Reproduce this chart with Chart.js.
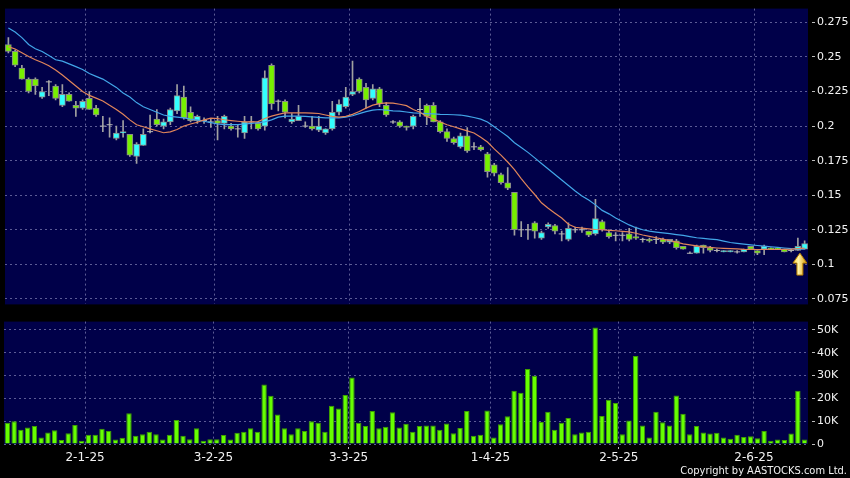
<!DOCTYPE html>
<html>
<head>
<meta charset="utf-8">
<script src="https://cdn.jsdelivr.net/npm/chart.js@4.4.0/dist/chart.umd.min.js"></script>
<style>
  html, body { margin: 0; padding: 0; background: #000; width: 850px; height: 478px; overflow: hidden; }
  #wrap { position: relative; width: 850px; height: 478px; }
  canvas { position: absolute; left: 0; }
  #price { top: 0; }
  #vol { top: 313px; }
</style>
</head>
<body>
<div id="wrap">
  <canvas id="price" width="850" height="313"></canvas>
  <canvas id="vol" width="850" height="165"></canvas>
</div>
<script>
// trading days, D-M-YY
const dates = [
  "12-12-24","13-12-24","16-12-24","17-12-24","18-12-24","19-12-24","20-12-24","23-12-24","24-12-24","27-12-24","30-12-24","31-12-24",
  "2-1-25","3-1-25","6-1-25","7-1-25","8-1-25","9-1-25","10-1-25","13-1-25","14-1-25","15-1-25","16-1-25","17-1-25","20-1-25","21-1-25","22-1-25","23-1-25","24-1-25","27-1-25","28-1-25",
  "3-2-25","4-2-25","5-2-25","6-2-25","7-2-25","10-2-25","11-2-25","12-2-25","13-2-25","14-2-25","17-2-25","18-2-25","19-2-25","20-2-25","21-2-25","24-2-25","25-2-25","26-2-25","27-2-25","28-2-25",
  "3-3-25","4-3-25","5-3-25","6-3-25","7-3-25","10-3-25","11-3-25","12-3-25","13-3-25","14-3-25","17-3-25","18-3-25","19-3-25","20-3-25","21-3-25","24-3-25","25-3-25","26-3-25","27-3-25","28-3-25","31-3-25",
  "1-4-25","2-4-25","3-4-25","7-4-25","8-4-25","9-4-25","10-4-25","11-4-25","14-4-25","15-4-25","16-4-25","17-4-25","22-4-25","23-4-25","24-4-25","25-4-25","28-4-25","29-4-25","30-4-25",
  "2-5-25","6-5-25","7-5-25","8-5-25","9-5-25","12-5-25","13-5-25","14-5-25","15-5-25","16-5-25","19-5-25","20-5-25","21-5-25","22-5-25","23-5-25","26-5-25","27-5-25","28-5-25","29-5-25","30-5-25",
  "2-6-25","3-6-25","4-6-25","5-6-25","6-6-25","9-6-25","10-6-25","11-6-25"
];
const monthStarts = ["2-1-25", "3-2-25", "3-3-25", "1-4-25", "2-5-25", "2-6-25"];

const opens = [
  .259,.254,.242,.234,.234,.221,.232,.229,.215,.223,
  .215,.213,.220,.213,.200,.201,.191,.195,.194,.178,
  .186,.196,.205,.200,.203,.211,.221,.210,.204,.204,
  .203,.204,.202,.200,.198,.195,.203,.202,.200,.244,
  .218,.218,.203,.204,.200,.200,.197,.195,.198,.210,
  .214,.223,.234,.228,.220,.227,.215,.203,.203,.200,
  .200,.212,.215,.215,.203,.196,.191,.185,.193,.185,
  .185,.180,.172,.165,.159,.152,.125,.125,.130,.119,
  .127,.128,.122,.118,.125,.125,.124,.122,.131,.123,
  .121,.121,.122,.120,.118,.118,.118,.118,.116,.117,
  .113,.108,.108,.114,.112,.110,.109,.109,.109,.109,
  .113,.110,.111,.112,.112,.111,.110,.110,.111
];
const highs = [
  .264,.255,.244,.235,.235,.228,.233,.230,.230,.224,
  .218,.219,.225,.215,.207,.206,.200,.204,.194,.188,
  .198,.208,.212,.205,.213,.230,.229,.214,.208,.206,
  .205,.207,.208,.202,.201,.207,.207,.203,.240,.245,
  .219,.219,.209,.215,.203,.207,.207,.198,.218,.219,
  .228,.247,.235,.231,.230,.228,.217,.204,.204,.200,
  .208,.220,.216,.217,.204,.198,.192,.195,.199,.188,
  .186,.181,.173,.166,.170,.152,.131,.129,.131,.124,
  .130,.129,.124,.130,.127,.127,.124,.147,.132,.125,
  .123,.123,.126,.127,.119,.119,.120,.119,.118,.118,
  .113,.109,.114,.114,.113,.111,.110,.110,.110,.111,
  .113,.110,.114,.112,.112,.111,.111,.119,.117
];
const lows = [
  .253,.243,.234,.224,.223,.220,.222,.219,.214,.218,
  .207,.212,.212,.207,.196,.192,.190,.192,.178,.173,
  .186,.195,.200,.198,.201,.209,.205,.203,.202,.202,
  .199,.190,.198,.197,.192,.191,.198,.197,.197,.212,
  .211,.206,.202,.204,.199,.197,.196,.194,.197,.208,
  .213,.222,.224,.213,.219,.214,.207,.202,.199,.197,
  .198,.207,.201,.203,.195,.189,.187,.184,.181,.183,
  .182,.163,.164,.158,.154,.121,.120,.118,.119,.118,
  .126,.122,.117,.117,.123,.123,.120,.121,.124,.119,
  .117,.117,.117,.118,.116,.116,.115,.115,.115,.111,
  .111,.108,.108,.108,.109,.109,.109,.109,.108,.109,
  .111,.107,.107,.111,.111,.109,.109,.110,.111
];
const closes = [
  .254,.244,.234,.225,.229,.225,.232,.220,.223,.218,
  .213,.218,.212,.208,.200,.201,.195,.196,.179,.187,
  .194,.196,.201,.203,.212,.222,.206,.204,.207,.204,
  .203,.202,.207,.198,.198,.203,.203,.198,.235,.216,
  .218,.210,.205,.207,.200,.198,.200,.198,.210,.216,
  .221,.225,.225,.219,.227,.216,.208,.203,.200,.199,
  .207,.212,.207,.203,.196,.191,.188,.193,.182,.185,
  .183,.167,.166,.159,.155,.125,.125,.125,.124,.123,
  .129,.124,.122,.126,.125,.125,.121,.133,.125,.120,
  .121,.121,.118,.119,.118,.117,.118,.116,.118,.112,
  .111,.108,.113,.112,.110,.110,.110,.110,.109,.111,
  .111,.108,.113,.111,.111,.109,.110,.113,.115
];
// volume in thousands of shares
const volumes = [
  9.3, 10.0, 6.2, 7.2, 7.9, 2.8, 5.0, 6.0, 1.7, 4.7,
  8.3, 1.4, 4.0, 4.0, 6.7, 5.7, 2.0, 2.7, 13.5, 3.6,
  4.3, 5.4, 4.3, 2.0, 4.0, 10.5, 3.6, 2.1, 6.9, 1.4,
  2.1, 2.1, 3.9, 2.0, 4.9, 5.4, 6.9, 5.4, 26.1, 21.1,
  12.9, 6.9, 4.3, 6.9, 5.7, 10.0, 9.3, 5.4, 16.8, 15.5,
  21.5, 29.1, 9.3, 7.9, 14.4, 6.9, 7.6, 13.9, 7.2, 8.9,
  5.4, 7.9, 8.1, 8.1, 6.2, 9.0, 4.7, 7.0, 14.4, 3.6,
  4.0, 14.7, 2.8, 8.6, 12.2, 23.3, 22.4, 32.8, 29.9, 9.6,
  14.1, 6.2, 9.3, 11.4, 4.3, 5.0, 5.4, 51.0, 12.3, 19.4,
  17.9, 4.3, 10.3, 38.5, 8.1, 2.8, 14.1, 9.5, 8.1, 21.2,
  13.2, 4.3, 7.9, 5.0, 4.6, 4.9, 2.8, 2.3, 4.0, 3.1,
  3.4, 2.5, 5.7, 1.4, 2.0, 1.7, 4.6, 23.3, 2.0
];
// moving averages as drawn (orange = short, blue = long)
const maShort = [
  .2575,.2558,.253,.2503,.248,.246,.2437,.2405,.237,.233,
  .229,.225,.2222,.2202,.2182,.215,.212,.2085,.2045,.201,
  .1995,.198,.1966,.1952,.1958,.1975,.2,.2015,.2028,.2045,
  .2058,.2055,.2046,.204,.2035,.2031,.203,.2032,.2055,.2072,
  .2085,.2096,.2096,.2096,.2096,.2094,.2091,.208,.207,.2065,
  .207,.2085,.2105,.213,.2152,.2163,.2168,.2166,.2158,.2148,
  .212,.21,.207,.205,.203,.201,.1995,.198,.1965,.195,
  .192,.1885,.1835,.179,.174,.1685,.162,.156,.1505,.1445,
  .1405,.137,.1335,.129,.1268,.1262,.1257,.1252,.125,.1246,
  .1243,.1238,.1234,.1225,.1212,.1202,.1192,.1182,.1172,.116,
  .1148,.1141,.1134,.1127,.1122,.1118,.1115,.1113,.1111,.1108,
  .1107,.1107,.1107,.1107,.1107,.1108,.111,.1114,.1117
];
const maLong = [
  .271,.268,.264,.259,.256,.254,.251,.248,.247,.245,
  .243,.241,.238,.236,.234,.231,.228,.224,.221,.217,
  .214,.212,.21,.208,.207,.2065,.206,.205,.2045,.2035,
  .2025,.2015,.201,.201,.201,.2015,.202,.2025,.203,.2045,
  .2065,.2072,.2072,.2072,.207,.2066,.2063,.206,.206,.206,
  .2065,.2075,.209,.2105,.2115,.212,.2115,.211,.2108,.2102,
  .2096,.2093,.209,.2088,.2085,.2084,.2082,.208,.2072,.2062,
  .205,.203,.1995,.196,.1925,.188,.1845,.181,.177,.173,
  .169,.165,.161,.157,.153,.1495,.1465,.143,.139,.1365,
  .1335,.131,.1285,.1265,.125,.124,.1233,.1227,.1222,.1215,
  .1209,.12,.1192,.1187,.1182,.1178,.1168,.1158,.1152,.1146,
  .1141,.1136,.1132,.1127,.1122,.1118,.1113,.111,.111
];

const NAVY = '#000049';
const GRID = '#5c5c96';
const UP = '#33ffff';
const DOWN = '#77f000';
const TXT = '#f2f2f2';
const FONT = 'DejaVu Sans';

const isMonthStart = i => i < dates.length && monthStarts.includes(dates[i]);

const panelBg = {
  id: 'panelBg',
  beforeDraw(chart) {
    const { ctx, chartArea: a } = chart;
    ctx.save();
    ctx.fillStyle = '#000';
    ctx.fillRect(0, 0, chart.width, chart.height);
    ctx.fillStyle = NAVY;
    ctx.fillRect(a.left, a.top, a.right - a.left, a.bottom - a.top);
    ctx.restore();
  }
};

// yellow marker under the latest candle
const lastArrow = {
  id: 'lastArrow',
  afterDatasetsDraw(chart) {
    const { ctx, scales } = chart;
    const last = dates.length - 1;
    const cx = scales.x.getPixelForValue(last - 0.7);
    const top = scales.y.getPixelForValue(lows[last]) + 4;
    const h = 22, headH = 10, headW = 7, shaftW = 3;
    const g = ctx.createLinearGradient(cx - headW, 0, cx + headW, 0);
    g.addColorStop(0, '#ffd84a');
    g.addColorStop(0.4, '#fff2a6');
    g.addColorStop(1, '#d99a00');
    ctx.save();
    ctx.beginPath();
    ctx.moveTo(cx, top);
    ctx.lineTo(cx + headW, top + headH);
    ctx.lineTo(cx + shaftW, top + headH);
    ctx.lineTo(cx + shaftW, top + h);
    ctx.lineTo(cx - shaftW, top + h);
    ctx.lineTo(cx - shaftW, top + headH);
    ctx.lineTo(cx - headW, top + headH);
    ctx.closePath();
    ctx.fillStyle = g;
    ctx.fill();
    ctx.strokeStyle = '#b07800';
    ctx.lineWidth = 1;
    ctx.stroke();
    ctx.restore();
  }
};

const copyright = {
  id: 'copyright',
  afterDraw(chart) {
    const { ctx } = chart;
    ctx.save();
    ctx.fillStyle = TXT;
    ctx.font = '11px "DejaVu Sans Condensed", "DejaVu Sans"';
    ctx.textAlign = 'right';
    ctx.textBaseline = 'middle';
    ctx.fillText('Copyright by AASTOCKS.com Ltd.', 847, 158);
    ctx.restore();
  }
};

function xAxis(showLabels) {
  return {
    type: 'category',
    offset: true,
    grid: {
      offset: true,
      color: c => isMonthStart(c.index) ? GRID : 'transparent',
      drawTicks: showLabels,
      tickLength: 5,
      tickColor: c => isMonthStart(c.index) ? '#bbbbbb' : 'transparent',
      tickBorderDash: [0, 3, 2, 20]
    },
    border: { display: false, dash: [2, 3] },
    ticks: {
      display: showLabels,
      autoSkip: false,
      maxRotation: 0,
      minRotation: 0,
      padding: 2,
      labelOffset: -3.4,
      color: TXT,
      font: { family: FONT, size: 12 },
      callback: (v, i) => isMonthStart(i) ? dates[i] : ''
    },
    afterFit: s => { s.height = showLabels ? 34 : 0; }
  };
}

function yAxis(min, max, step, fmt) {
  return {
    position: 'right',
    min: min,
    max: max,
    grid: { color: GRID, tickColor: '#bbbbbb', tickLength: 7, tickBorderDash: [0, 4, 3, 20] },
    border: { display: false, dash: [2, 3] },
    ticks: {
      stepSize: step,
      includeBounds: false,
      padding: 2,
      color: TXT,
      font: { family: FONT, size: 11 },
      callback: fmt
    },
    afterFit: s => { s.width = 42; }
  };
}

const common = {
  responsive: false,
  animation: false,
  devicePixelRatio: 1,
  events: [],
  plugins: { legend: { display: false }, tooltip: { enabled: false } }
};

// price panel: wicks, bodies, doji marks, moving averages
new Chart(document.getElementById('price'), {
  type: 'bar',
  data: {
    labels: dates,
    datasets: [
      {
        label: 'Range',
        data: dates.map((d, i) => [lows[i], highs[i]]),
        backgroundColor: '#a0a0a0',
        barThickness: 1,
        grouped: false,
        order: 4
      },
      {
        label: 'Body',
        data: dates.map((d, i) => opens[i] === closes[i] ? null : [opens[i], closes[i]]),
        backgroundColor: dates.map((d, i) => closes[i] > opens[i] ? UP : DOWN),
        borderColor: '#8a8a8a',
        borderWidth: 1,
        borderSkipped: false,
        barThickness: 6,
        grouped: false,
        order: 3
      },
      {
        type: 'line',
        label: 'Doji',
        data: dates.map((d, i) => opens[i] === closes[i] ? closes[i] : null),
        showLine: false,
        pointStyle: 'line',
        pointRadius: 3,
        pointBorderColor: '#b4b4b4',
        pointBorderWidth: 1,
        order: 2
      },
      {
        type: 'line',
        label: 'MA long',
        data: maLong,
        borderColor: '#42a6e8',
        borderWidth: 1.2,
        pointRadius: 0,
        order: 1
      },
      {
        type: 'line',
        label: 'MA short',
        data: maShort,
        borderColor: '#e0855a',
        borderWidth: 1.2,
        pointRadius: 0,
        order: 0
      }
    ]
  },
  options: {
    ...common,
    layout: { padding: { left: 4, top: 5, right: 0, bottom: 5 } },
    scales: {
      x: xAxis(false),
      y: yAxis(0.071, 0.285, 0.025, v => String(+v.toFixed(3)))
    }
  },
  plugins: [panelBg, lastArrow]
});

// volume panel
new Chart(document.getElementById('vol'), {
  type: 'bar',
  data: {
    labels: dates,
    datasets: [{
      label: 'Volume',
      data: volumes,
      backgroundColor: '#66ff00',
      borderColor: '#3f9f00',
      borderWidth: 1,
      borderSkipped: 'bottom',
      barPercentage: 0.8,
      categoryPercentage: 1
    }]
  },
  options: {
    ...common,
    layout: { padding: { left: 4, top: 6, right: 0, bottom: 0 } },
    scales: {
      x: xAxis(true),
      y: yAxis(0, 53.6, 10, v => v === 0 ? '0' : Math.round(v) + 'K')
    }
  },
  plugins: [panelBg, copyright]
});
</script>
</body>
</html>
